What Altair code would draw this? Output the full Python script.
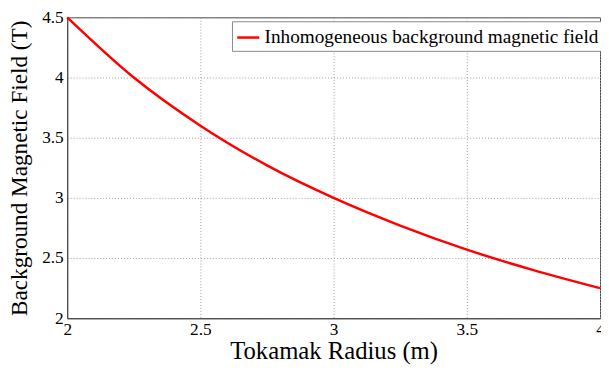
import altair as alt
import pandas as pd

radius = [2.0, 2.25, 2.5, 2.75, 3.0, 3.25, 3.5, 3.75, 4.0]
field = [4.5, 4.0, 3.6, 3.27, 3.0, 2.77, 2.57, 2.4, 2.25]
series = ["Inhomogeneous background magnetic field"] * len(radius)

df = pd.DataFrame({"R": radius, "B": field, "s": series})

FONT = "Liberation Serif"

chart = alt.Chart(df).mark_line(strokeWidth=2.5, interpolate="monotone").encode(
    x=alt.X("R:Q", scale=alt.Scale(domain=[2, 4], nice=False),
            axis=alt.Axis(values=[2, 2.5, 3, 3.5, 4], title="Tokamak Radius (m)",
                          labelFlush=False, format="~g", labelPadding=2, titlePadding=1,
                          titleFontSize=25)),
    y=alt.Y("B:Q", scale=alt.Scale(domain=[2, 4.5], nice=False, zero=False),
            axis=alt.Axis(values=[2, 2.5, 3, 3.5, 4, 4.5], title="Background Magnetic Field (T)",
                          format="~g", labelPadding=4, titlePadding=10, titleFontSize=23.5)),
    color=alt.Color("s:N", scale=alt.Scale(range=["#ff0000"]),
                    legend=alt.Legend(title=None, orient="none", legendX=167, legendY=4,
                                      symbolType="stroke", symbolSize=500, symbolStrokeWidth=2.5,
                                      labelFont=FONT, labelFontSize=19.5, labelColor="black",
                                      labelLimit=0,
                                      fillColor="white", strokeColor="#888", padding=4,
                                      cornerRadius=0, symbolOffset=0)),
).properties(
    width=540, height=305,
    autosize=alt.AutoSizeParams(type="none"),
    padding={"left": 60, "top": 7, "right": 1, "bottom": 50},
).configure_axis(
    labelFont=FONT, labelFontSize=17.5, labelColor="black",
    titleFont=FONT, titleFontWeight="normal", titleColor="black",
    ticks=False, domainColor="#444", gridColor="#999", gridDash=[1, 2], gridWidth=1,
).configure_view(stroke="#444")

chart.save("out.html", embed_options={"renderer": "svg", "actions": False})
